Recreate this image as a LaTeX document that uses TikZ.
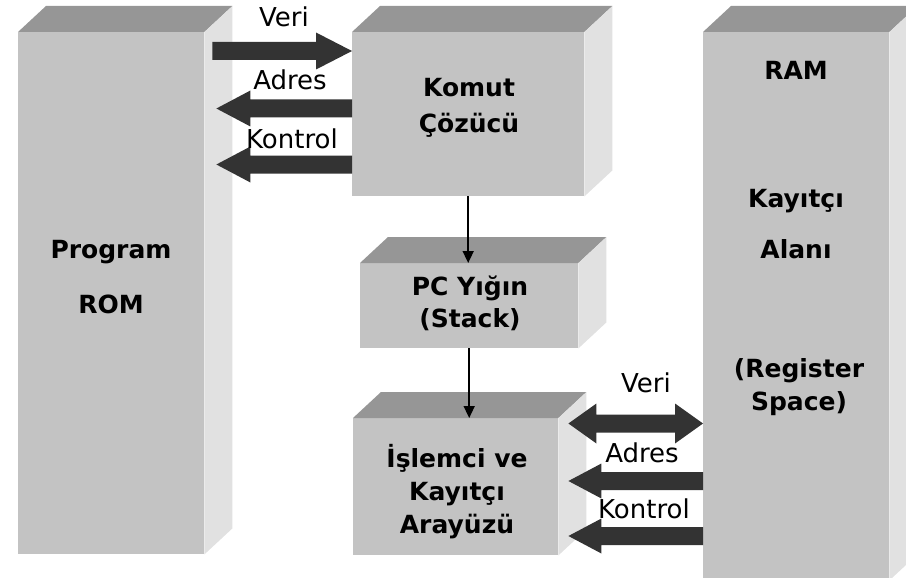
\documentclass[tikz,border=0pt]{standalone}
\usepackage{fontspec}
\setmainfont{DejaVu Sans}
\usetikzlibrary{calc,arrows.meta}

\definecolor{facefront}{HTML}{C3C3C3}
\definecolor{facetop}{HTML}{969696}
\definecolor{faceside}{HTML}{E1E1E1}
\definecolor{bus}{HTML}{333333}

\tikzset{
  front/.style={draw=none, fill=facefront, rectangle, inner sep=0pt, anchor=north west},
  title/.style={font=\fontsize{25}{30}\selectfont\bfseries, anchor=base, inner sep=0pt},
  buslabel/.style={font=\fontsize{26}{31}\selectfont, anchor=base, inner sep=0pt},
  flow/.style={line width=1.6pt, -{Triangle[length=12pt,width=11pt]}},
  % wide bus arrow, head at the target: shaft half width, head half width, head length
  fat/.style n args={3}{fill=bus, to path={
    let \p1=(\tikztostart), \p2=(\tikztotarget), \p3=($(\p2)!#3!(\p1)$) in
    (\x1,{\y1+#1}) -- (\x3,{\y1+#1}) -- (\x3,{\y1+#2}) -- (\x2,\y1)
    -- (\x3,{\y1-#2}) -- (\x3,{\y1-#1}) -- (\x1,{\y1-#1}) -- cycle}},
  % wide bus arrow with a head at both ends
  fatboth/.style n args={3}{fill=bus, to path={
    let \p1=(\tikztostart), \p2=(\tikztotarget),
        \p3=($(\p2)!#3!(\p1)$), \p4=($(\p1)!#3!(\p2)$) in
    (\x1,\y1) -- (\x4,{\y1+#2}) -- (\x4,{\y1+#1}) -- (\x3,{\y1+#1})
    -- (\x3,{\y1+#2}) -- (\x2,\y1) -- (\x3,{\y1-#2}) -- (\x3,{\y1-#1})
    -- (\x4,{\y1-#1}) -- (\x4,{\y1-#2}) -- cycle}},
}

% top and side faces of a block
\newcommand\blockdepth[1]{%
  \fill[facetop] (#1.north west) -- ++(28,-26) -- ($(#1.north east)+(28,-26)$)
    -- (#1.north east) -- cycle;
  \fill[faceside] (#1.north east) -- ++(28,-26) -- ($(#1.south east)+(28,-26)$)
    -- (#1.south east) -- cycle;
}

\begin{document}
\begin{tikzpicture}[x=1pt, y=-1pt]
\useasboundingbox (0,0) rectangle (906,578);
\clip (0,0) rectangle (906,578);

% blocks
\node[front, minimum width=186pt, minimum height=522pt] (rom)   at (18,32)  {};
\node[front, minimum width=232pt, minimum height=164pt] (komut) at (352,32) {};
\node[front, minimum width=218pt, minimum height=85pt]  (pc)    at (360,263) {};
\node[front, minimum width=205pt, minimum height=137pt] (isl)   at (353,418) {};
\node[front, minimum width=186pt, minimum height=548pt] (ram)   at (703,32) {};
\blockdepth{rom}
\blockdepth{komut}
\blockdepth{pc}
\blockdepth{isl}
\blockdepth{ram}

% block texts
\node[title] (tprog)  at (111,258) {Program};
\node[title] (trom)   at (111,313) {ROM};
\node[title] (tkomut) at (469,97)  {Komut};
\node[title] (tcoz)   at (469,132) {Çözücü};
\node[title] (tpc)    at (470,295) {PC Yığın};
\node[title] (tstack) at (470,327) {(Stack)};
\node[title] (tisl)   at (457,467) {İşlemci ve};
\node[title] (tkay)   at (457,500) {Kayıtçı};
\node[title] (taray)  at (457,533) {Arayüzü};
\node[title] (tram)   at (796,80)  {RAM};
\node[title] (tkay2)  at (796,207) {Kayıtçı};
\node[title] (talan)  at (796,258) {Alanı};
\node[title] (treg)   at (799,377) {(Register};
\node[title] (tspace) at (799,410) {Space)};

% bus ends on the block sides
\coordinate (romport) at ([xshift=8pt]rom.east);
\coordinate (romtip)  at ([xshift=12pt]rom.east);
\coordinate (isltip)  at ([xshift=10pt]isl.east);

% program memory buses
\path[fat={9pt}{18.5pt}{36pt}] (romport |- 0,51) to (komut.west |- 0,51);
\path[fat={9pt}{18pt}{34pt}] (komut.west |- 0,108.5) to (romtip |- 0,108.5);
\path[fat={9pt}{18pt}{34pt}] (komut.west |- 0,164.5) to (romtip |- 0,164.5);
\node[buslabel] (lveri1)  at (284,27)  {Veri};
\node[buslabel] (ladr1)   at (290,90)  {Adres};
\node[buslabel] (lkon1)   at (292,148) {Kontrol};

% data memory buses
\path[fatboth={9pt}{20pt}{28pt}] (isltip |- 0,423.5) to (ram.west |- 0,423.5);
\path[fat={9pt}{17.5pt}{33pt}] (ram.west |- 0,481) to (isltip |- 0,481);
\path[fat={9pt}{17.5pt}{33pt}] (ram.west |- 0,536) to (isltip |- 0,536);
\node[buslabel] (lveri2) at (646,392) {Veri};
\node[buslabel] (ladr2)  at (642,462) {Adres};
\node[buslabel] (lkon2)  at (644,518) {Kontrol};

% control flow
\draw[flow] (komut.south) -- (komut.south |- pc.north);
\draw[flow] (pc.south) -- (pc.south |- isl.north);
\end{tikzpicture}
\end{document}
